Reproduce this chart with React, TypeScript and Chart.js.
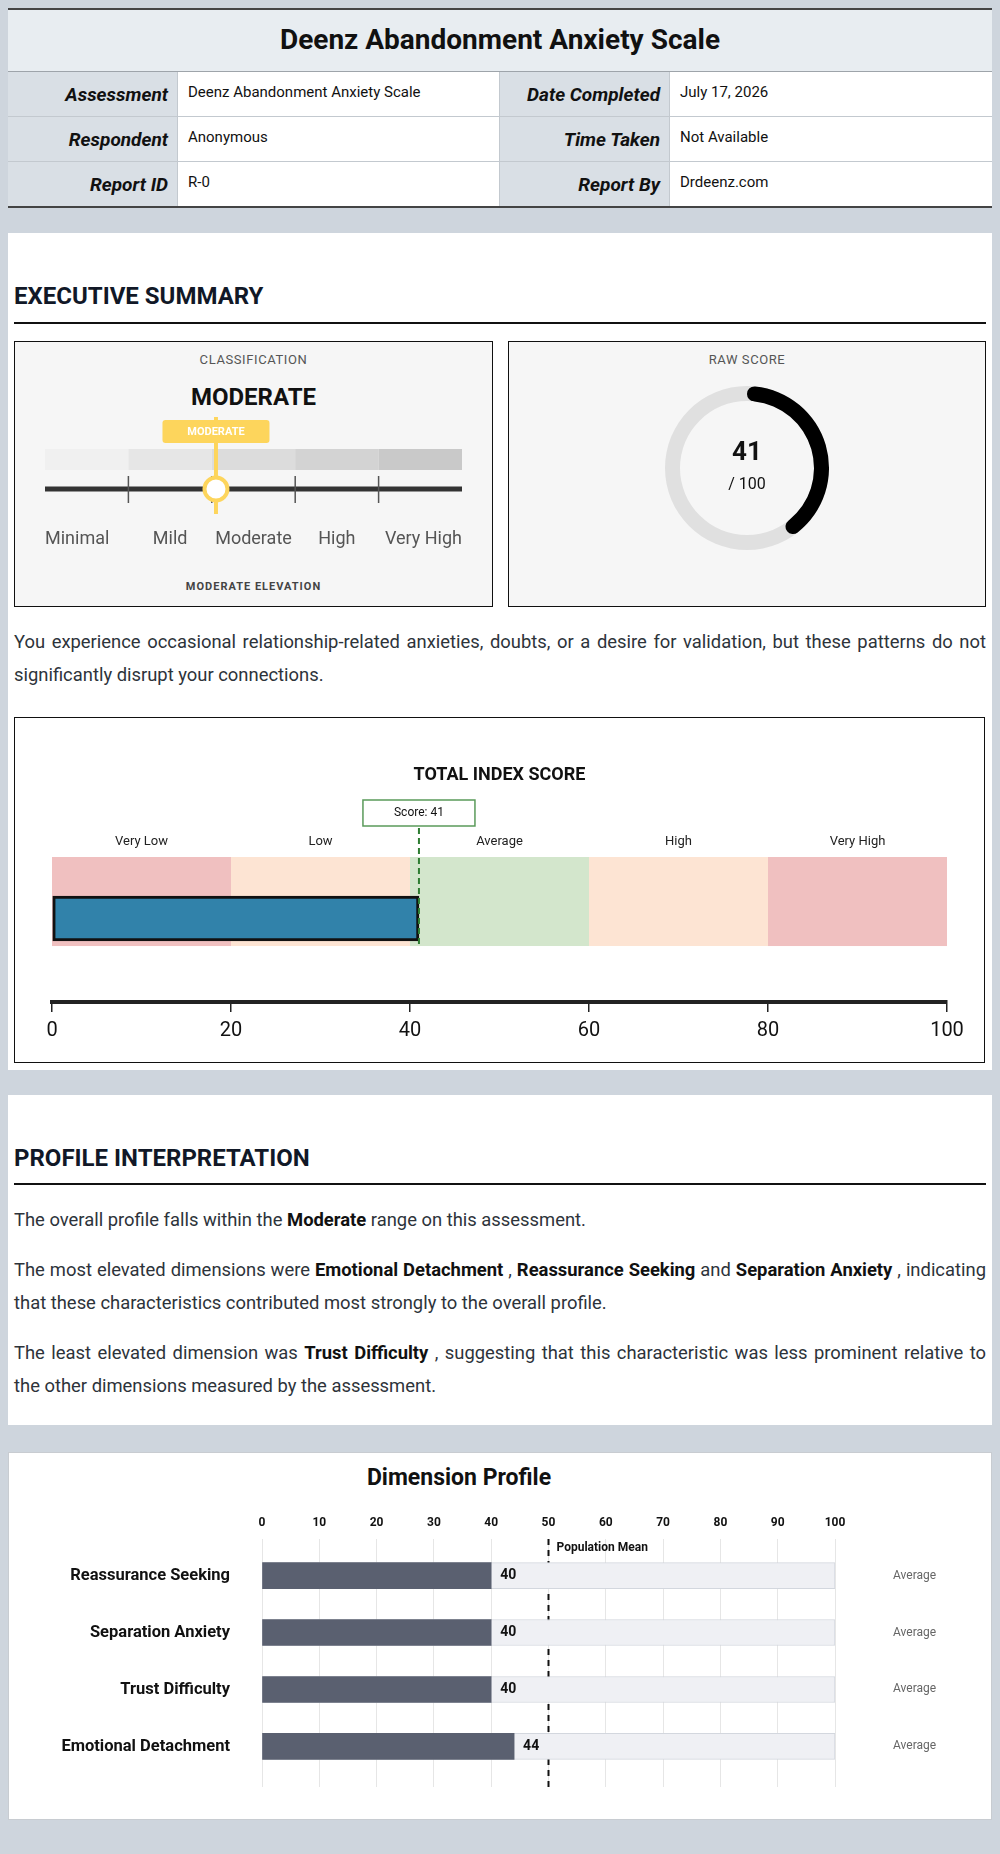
import React, { useEffect, useRef } from 'react';
import { Chart, registerables } from 'chart.js';

Chart.register(...registerables);

const FONT = 'Roboto, "Noto Sans", "DejaVu Sans", sans-serif';
Chart.defaults.font.family = FONT;

// ---------- data ----------
const infoLabelsLeft = ['Assessment', 'Respondent', 'Report ID'];
const infoValuesLeft = ['Deenz Abandonment Anxiety Scale', 'Anonymous', 'R-0'];
const infoLabelsRight = ['Date Completed', 'Time Taken', 'Report By'];
const infoValuesRight = ['July 17, 2026', 'Not Available', 'Drdeenz.com'];

const classificationLevels = ['Minimal', 'Mild', 'Moderate', 'High', 'Very High'];
const classificationEdges = [0, 20, 40, 60, 80, 100];
const rawScore = 41;
const rawScoreMax = 100;

const indexBandLabels = ['Very Low', 'Low', 'Average', 'High', 'Very High'];
const indexBandEdges = [0, 20, 40, 60, 80, 100];
const indexTicks = [0, 20, 40, 60, 80, 100];
const totalIndexScore = 41;

const dimensionNames = ['Reassurance Seeking', 'Separation Anxiety', 'Trust Difficulty', 'Emotional Detachment'];
const dimensionScores = [40, 40, 40, 44];
const dimensionLevels = ['Average', 'Average', 'Average', 'Average'];
const populationMean = 50;

// ---------- styles ----------
const PAGE_BG = '#ced5dd';
const LABEL_BG = '#d9dfe5';
const YELLOW = '#fdd55c';
const classSegColors = ['#f0f0f0', '#e6e6e6', '#dcdcdc', '#d3d3d3', '#c9c9c9'];
const indexBandColors = ['#f0c0c0', '#fde4d3', '#d3e6cc', '#fde4d3', '#f0c0c0'];

const levelIndex = classificationEdges.findIndex(
  (e, i) => i < classificationEdges.length - 1 && rawScore >= e && rawScore < classificationEdges[i + 1]
);
const levelName = classificationLevels[levelIndex];

// ---------- helpers ----------
function Txt(props: any) {
  const { x, y, a = 'l', s, b = false, i = false, c = '#111', ls = 0, children } = props;
  const lh = Math.round(s * 1.3);
  const st: any = {
    position: 'absolute', top: y - lh / 2, height: lh, lineHeight: lh + 'px', fontSize: s,
    fontWeight: b ? 700 : 400, fontStyle: i ? 'italic' : 'normal', color: c, letterSpacing: ls,
    whiteSpace: 'nowrap', fontFamily: FONT,
  };
  if (a === 'l') st.left = x;
  else if (a === 'c') { st.left = x - 400; st.width = 800; st.textAlign = 'center'; }
  else { st.left = x - 800; st.width = 800; st.textAlign = 'right'; }
  return <div style={st}>{children}</div>;
}

function Rect(props: any) {
  const { x, y, w, h, bg, border } = props;
  return (
    <div style={{
      position: 'absolute', left: x, top: y, width: w, height: h, background: bg,
      border: border || 'none', boxSizing: 'border-box',
    }} />
  );
}

function ChartCanvas(props: any) {
  const { x, y, w, h, make } = props;
  const ref = useRef<HTMLCanvasElement>(null);
  useEffect(() => {
    const chart = new Chart(ref.current as HTMLCanvasElement, make());
    return () => chart.destroy();
  }, []);
  return (
    <canvas ref={ref} width={w} height={h}
      style={{ position: 'absolute', left: x, top: y, width: w, height: h }} />
  );
}

// ---------- classification scale ----------
const classScalePlugin = {
  id: 'classScale',
  beforeDatasetsDraw(chart: any) {
    const { ctx, scales } = chart;
    const x = scales.x, y = scales.y;
    const cy = y.getPixelForValue(0);
    ctx.save();
    for (let i = 0; i < classificationEdges.length - 1; i++) {
      const x0 = x.getPixelForValue(classificationEdges[i]);
      const x1 = x.getPixelForValue(classificationEdges[i + 1]);
      ctx.fillStyle = classSegColors[i];
      ctx.fillRect(x0, cy - 40, x1 - x0, 21);
    }
    ctx.strokeStyle = '#333';
    ctx.lineWidth = 5;
    ctx.beginPath();
    ctx.moveTo(x.getPixelForValue(0), cy);
    ctx.lineTo(x.getPixelForValue(100), cy);
    ctx.stroke();
    ctx.strokeStyle = '#555';
    ctx.lineWidth = 1.5;
    for (let i = 1; i < classificationEdges.length - 1; i++) {
      const px = x.getPixelForValue(classificationEdges[i]);
      ctx.beginPath();
      ctx.moveTo(px, cy - 13);
      ctx.lineTo(px, cy + 14);
      ctx.stroke();
    }
    const mx = x.getPixelForValue(rawScore);
    ctx.strokeStyle = YELLOW;
    ctx.lineWidth = 4;
    ctx.beginPath();
    ctx.moveTo(mx, cy - 72);
    ctx.lineTo(mx, cy + 25);
    ctx.stroke();
    ctx.restore();
  },
  afterDatasetsDraw(chart: any) {
    const { ctx, scales } = chart;
    const x = scales.x, y = scales.y;
    const cy = y.getPixelForValue(0);
    const mx = x.getPixelForValue(rawScore);
    ctx.save();
    ctx.fillStyle = YELLOW;
    ctx.beginPath();
    (ctx as any).roundRect(mx - 53.5, cy - 69, 107, 23, 3);
    ctx.fill();
    ctx.fillStyle = '#fff';
    ctx.font = `bold 11px ${FONT}`;
    ctx.textAlign = 'center';
    ctx.textBaseline = 'middle';
    ctx.fillText(levelName.toUpperCase(), mx, cy - 57);
    ctx.fillStyle = '#555';
    ctx.font = `18px ${FONT}`;
    const n = classificationLevels.length;
    classificationLevels.forEach((lab, i) => {
      const x0 = x.getPixelForValue(classificationEdges[i]);
      const x1 = x.getPixelForValue(classificationEdges[i + 1]);
      if (i === 0) { ctx.textAlign = 'left'; ctx.fillText(lab, x0, cy + 50); }
      else if (i === n - 1) { ctx.textAlign = 'right'; ctx.fillText(lab, x1, cy + 50); }
      else { ctx.textAlign = 'center'; ctx.fillText(lab, (x0 + x1) / 2, cy + 50); }
    });
    ctx.restore();
  },
};

function makeClassScale(): any {
  return {
    type: 'scatter',
    data: {
      datasets: [{
        data: [{ x: rawScore, y: 0 }],
        pointRadius: 11.5, pointHoverRadius: 11.5, pointBorderWidth: 4,
        pointBackgroundColor: '#fff', pointBorderColor: YELLOW,
      }],
    },
    options: {
      animation: false, responsive: false, events: [],
      layout: { padding: { left: 30, right: 30, top: 0, bottom: 0 } },
      scales: {
        x: { type: 'linear', min: 0, max: 100, display: false, offset: false },
        y: { type: 'linear', min: -1, max: 1, display: false, offset: false },
      },
      plugins: { legend: { display: false }, tooltip: { enabled: false } },
    },
    plugins: [classScalePlugin],
  };
}

// ---------- raw score donut ----------
const donutPlugin = {
  id: 'donutBg',
  beforeDatasetsDraw(chart: any) {
    const arc = chart.getDatasetMeta(0).data[0];
    if (!arc) return;
    const { ctx } = chart;
    ctx.save();
    ctx.fillStyle = '#e0e0e0';
    ctx.beginPath();
    ctx.arc(arc.x, arc.y, arc.outerRadius, 0, Math.PI * 2);
    ctx.arc(arc.x, arc.y, arc.innerRadius, 0, Math.PI * 2, true);
    ctx.fill();
    ctx.restore();
  },
  afterDatasetsDraw(chart: any) {
    const arc = chart.getDatasetMeta(0).data[0];
    if (!arc) return;
    const { ctx } = chart;
    ctx.save();
    ctx.fillStyle = '#111';
    ctx.textAlign = 'center';
    ctx.textBaseline = 'middle';
    ctx.font = `bold 26px ${FONT}`;
    ctx.fillText(String(rawScore), arc.x, arc.y - 15);
    ctx.font = `16px ${FONT}`;
    ctx.fillText('/ ' + rawScoreMax, arc.x, arc.y + 17);
    ctx.restore();
  },
};

function makeDonut(): any {
  return {
    type: 'doughnut',
    data: {
      datasets: [{
        data: [rawScore, rawScoreMax - rawScore],
        backgroundColor: ['#000', 'rgba(0,0,0,0)'],
        borderWidth: 0, hoverBorderWidth: 0, hoverOffset: 0,
        borderRadius: (c: any) => (c.dataIndex === 0 ? 8 : 0),
      }],
    },
    options: {
      animation: false, responsive: false, events: [], cutout: '81.7%',
      layout: { padding: 0 },
      plugins: { legend: { display: false }, tooltip: { enabled: false } },
    },
    plugins: [donutPlugin],
  };
}

// ---------- total index ----------
const BAND_TOP = 1;
const BAND_BOTTOM = 0.386;
const BAR_POS = 0.576;

const indexPlugin = {
  id: 'indexBands',
  beforeDatasetsDraw(chart: any) {
    const { ctx, chartArea, scales } = chart;
    const x = scales.x, y = scales.y;
    const top = y.getPixelForValue(BAND_TOP);
    const bottom = y.getPixelForValue(BAND_BOTTOM);
    ctx.save();
    ctx.fillStyle = '#111';
    ctx.font = `bold 18px ${FONT}`;
    ctx.textAlign = 'center';
    ctx.textBaseline = 'middle';
    ctx.fillText('TOTAL INDEX SCORE', (chartArea.left + chartArea.right) / 2, 57);
    for (let i = 0; i < indexBandEdges.length - 1; i++) {
      const x0 = x.getPixelForValue(indexBandEdges[i]);
      const x1 = x.getPixelForValue(indexBandEdges[i + 1]);
      ctx.fillStyle = indexBandColors[i];
      ctx.fillRect(x0, top, x1 - x0, bottom - top);
      ctx.fillStyle = '#222';
      ctx.font = `13px ${FONT}`;
      ctx.fillText(indexBandLabels[i], (x0 + x1) / 2, top - 15);
    }
    ctx.restore();
  },
  afterDatasetsDraw(chart: any) {
    const { ctx, scales } = chart;
    const x = scales.x, y = scales.y;
    const px = x.getPixelForValue(totalIndexScore);
    const top = y.getPixelForValue(BAND_TOP);
    const bottom = y.getPixelForValue(BAND_BOTTOM);
    ctx.save();
    ctx.strokeStyle = '#2e7d32';
    ctx.lineWidth = 2;
    ctx.setLineDash([6, 4]);
    ctx.beginPath();
    ctx.moveTo(px, top - 29);
    ctx.lineTo(px, bottom);
    ctx.stroke();
    ctx.setLineDash([]);
    ctx.fillStyle = '#fff';
    ctx.fillRect(px - 56, top - 57, 112, 26);
    ctx.strokeStyle = '#5a9a5a';
    ctx.lineWidth = 1.5;
    ctx.strokeRect(px - 56, top - 57, 112, 26);
    ctx.fillStyle = '#111';
    ctx.font = `12px ${FONT}`;
    ctx.textAlign = 'center';
    ctx.textBaseline = 'middle';
    ctx.fillText('Score: ' + totalIndexScore, px, top - 44);
    ctx.restore();
  },
};

function makeIndex(): any {
  return {
    type: 'bar',
    data: {
      datasets: [{
        data: [{ x: totalIndexScore, y: BAR_POS }],
        backgroundColor: '#3182aa', borderColor: '#111', borderWidth: 3,
        borderSkipped: false, barThickness: 45,
      }],
    },
    options: {
      animation: false, responsive: false, events: [], indexAxis: 'y',
      layout: { padding: { left: 37, right: 37, top: 139, bottom: 0 } },
      scales: {
        x: {
          type: 'linear', position: 'bottom', min: 0, max: 100, offset: false,
          afterBuildTicks: (a: any) => { a.ticks = indexTicks.map((v) => ({ value: v })); },
          afterFit: (a: any) => { a.height = 60; a.paddingTop = 0; a.paddingBottom = 0; },
          grid: { drawOnChartArea: false, drawTicks: true, tickLength: 10, color: '#222', lineWidth: 1.5 },
          border: { display: true, color: '#222', width: 4 },
          ticks: { padding: 7, color: '#111', font: { size: 20 } },
        },
        y: { type: 'linear', min: 0, max: 1, display: false, offset: false },
      },
      plugins: { legend: { display: false }, tooltip: { enabled: false } },
    },
    plugins: [indexPlugin],
  };
}

// ---------- dimension profile ----------
const Y_MIN = -0.643;
const Y_MAX = 3.713;

const dimPlugin = {
  id: 'dimExtras',
  beforeDatasetsDraw(chart: any) {
    const { ctx, chartArea, scales } = chart;
    const px = scales.x.getPixelForValue(populationMean);
    ctx.save();
    ctx.strokeStyle = '#111';
    ctx.lineWidth = 2;
    ctx.setLineDash([6, 5]);
    ctx.beginPath();
    ctx.moveTo(px, chartArea.top);
    ctx.lineTo(px, chartArea.bottom);
    ctx.stroke();
    ctx.setLineDash([]);
    ctx.fillStyle = '#111';
    ctx.font = `bold 12px ${FONT}`;
    ctx.textAlign = 'left';
    ctx.textBaseline = 'middle';
    ctx.fillText('Population Mean', px + 8, chartArea.top + 9);
    ctx.restore();
  },
  afterDatasetsDraw(chart: any) {
    const { ctx } = chart;
    const meta = chart.getDatasetMeta(0);
    ctx.save();
    ctx.fillStyle = '#111';
    ctx.font = `bold 14px ${FONT}`;
    ctx.textAlign = 'left';
    ctx.textBaseline = 'middle';
    meta.data.forEach((bar: any, i: number) => {
      ctx.fillText(String(dimensionScores[i]), bar.x + 9, bar.y);
    });
    ctx.restore();
  },
};

function makeDims(): any {
  const catTicks = (a: any) => { a.ticks = dimensionNames.map((_, i) => ({ value: i })); };
  const noPad = (w: number) => (a: any) => {
    a.width = w; a.paddingTop = 0; a.paddingBottom = 0;
  };
  return {
    type: 'bar',
    data: {
      datasets: [
        {
          data: dimensionScores.map((v, i) => ({ x: v, y: i })),
          backgroundColor: '#5a6070', borderWidth: 0, barThickness: 26, grouped: false,
        },
        {
          data: dimensionScores.map((_, i) => ({ x: 100, y: i })),
          backgroundColor: '#eff0f4', borderColor: '#d3d7de', borderWidth: 1,
          borderSkipped: 'start', barThickness: 26, grouped: false,
        },
      ],
    },
    options: {
      animation: false, responsive: false, events: [], indexAxis: 'y',
      layout: { padding: { left: 0, right: 0, top: 0, bottom: 15 } },
      scales: {
        x: {
          type: 'linear', position: 'top', min: 0, max: 100, offset: false,
          ticks: { stepSize: 10, padding: 9, color: '#111', font: { size: 12, weight: 'bold' } },
          grid: { color: '#e6e6e6', drawTicks: false },
          border: { display: false },
          afterFit: (a: any) => { a.height = 37; },
        },
        y: {
          type: 'linear', position: 'left', min: Y_MIN, max: Y_MAX, reverse: true, offset: false,
          afterBuildTicks: catTicks,
          ticks: { callback: (v: any) => dimensionNames[v], padding: 32, color: '#111', font: { size: 16.5, weight: 'bold' } },
          grid: { display: false, drawTicks: false },
          border: { display: false },
          afterFit: noPad(253),
        },
        y2: {
          type: 'linear', position: 'right', min: Y_MIN, max: Y_MAX, reverse: true, offset: false,
          afterBuildTicks: catTicks,
          ticks: { callback: (v: any) => dimensionLevels[v], padding: 58, color: '#666', font: { size: 12 } },
          grid: { display: false, drawTicks: false },
          border: { display: false },
          afterFit: noPad(156),
        },
      },
      plugins: { legend: { display: false }, tooltip: { enabled: false } },
    },
    plugins: [dimPlugin],
  };
}

// ---------- page ----------
const paraStyle: any = {
  fontFamily: FONT, fontSize: 18.4, lineHeight: '33px', color: '#2d333a', textAlign: 'justify', margin: 0,
};
const B = (p: any) => <b style={{ color: '#111' }}>{p.children}</b>;

export default function App() {
  return (
    <div style={{ position: 'absolute', left: 0, top: 0, width: 1000, height: 1854, background: PAGE_BG, overflow: 'hidden', fontFamily: FONT }}>
      {/* header */}
      <Rect x={8} y={8} w={984} h={2} bg="#444" />
      <Rect x={8} y={10} w={984} h={62} bg="#e8edf1" />
      <Txt a="c" x={500} y={40} s={28} b c="#111">Deenz Abandonment Anxiety Scale</Txt>
      <Rect x={8} y={71} w={984} h={1} bg="#9ea4aa" />
      <Rect x={8} y={72} w={984} h={134} bg="#fff" />
      {infoLabelsLeft.map((lab, i) => {
        const top = 72 + i * 45;
        return (
          <React.Fragment key={i}>
            <Rect x={8} y={top} w={170} h={45} bg={LABEL_BG} />
            <Rect x={500} y={top} w={170} h={45} bg={LABEL_BG} />
            <Txt a="r" x={168} y={top + 22.5} s={19} b i>{lab}</Txt>
            <Txt x={188} y={top + 19.5} s={15}>{infoValuesLeft[i]}</Txt>
            <Txt a="r" x={660} y={top + 22.5} s={19} b i>{infoLabelsRight[i]}</Txt>
            <Txt x={680} y={top + 19.5} s={15}>{infoValuesRight[i]}</Txt>
          </React.Fragment>
        );
      })}
      <Rect x={8} y={116} w={984} h={1} bg="#c3c9cf" />
      <Rect x={8} y={161} w={984} h={1} bg="#c3c9cf" />
      <Rect x={177} y={72} w={1} h={134} bg="#c3c9cf" />
      <Rect x={499} y={72} w={1} h={134} bg="#c3c9cf" />
      <Rect x={669} y={72} w={1} h={134} bg="#c3c9cf" />
      <Rect x={8} y={206} w={984} h={2} bg="#444" />

      {/* executive summary */}
      <Rect x={8} y={233} w={984} h={837} bg="#fff" />
      <Txt x={14} y={296} s={24} b c="#111827">EXECUTIVE SUMMARY</Txt>
      <Rect x={14} y={322} w={972} h={2} bg="#111" />

      <Rect x={14} y={341} w={479} h={266} bg="#f6f6f6" border="1px solid #111" />
      <Txt a="c" x={253.5} y={359} s={13} c="#555" ls={0.6}>CLASSIFICATION</Txt>
      <Txt a="c" x={253.5} y={397} s={24} b c="#111">{levelName.toUpperCase()}</Txt>
      <ChartCanvas x={15} y={405} w={477} h={168} make={makeClassScale} />
      <Txt a="c" x={253.5} y={587} s={11} b c="#444" ls={1}>{levelName.toUpperCase()} ELEVATION</Txt>

      <Rect x={508} y={341} w={478} h={266} bg="#f6f6f6" border="1px solid #111" />
      <Txt a="c" x={747} y={359} s={13} c="#555" ls={0.6}>RAW SCORE</Txt>
      <ChartCanvas x={665} y={386} w={164} h={164} make={makeDonut} />

      <div style={{ position: 'absolute', left: 14, top: 624.5, width: 972 }}>
        <p style={paraStyle}>
          You experience occasional relationship-related anxieties, doubts, or a desire for validation, but these patterns do not significantly disrupt your connections.
        </p>
      </div>

      <Rect x={14} y={717} w={971} h={346} bg="#fff" border="1px solid #111" />
      <ChartCanvas x={15} y={718} w={969} h={344} make={makeIndex} />

      {/* profile interpretation */}
      <Rect x={8} y={1095} w={984} h={330} bg="#fff" />
      <Txt x={14} y={1158} s={24} b c="#111827">PROFILE INTERPRETATION</Txt>
      <Rect x={14} y={1183} w={972} h={2} bg="#111" />
      <div style={{ position: 'absolute', left: 14, top: 1202.5, width: 972, display: 'flex', flexDirection: 'column', gap: 17 }}>
        <p style={paraStyle}>
          The overall profile falls within the <B>{levelName}</B> range on this assessment.
        </p>
        <p style={paraStyle}>
          The most elevated dimensions were <B>Emotional Detachment</B> , <B>Reassurance Seeking</B> and <B>Separation Anxiety</B> , indicating that these characteristics contributed most strongly to the overall profile.
        </p>
        <p style={paraStyle}>
          The least elevated dimension was <B>Trust Difficulty</B> , suggesting that this characteristic was less prominent relative to the other dimensions measured by the assessment.
        </p>
      </div>

      {/* dimension profile */}
      <Rect x={8} y={1452} w={984} h={368} bg="#fff" border="1px solid #c8ccd1" />
      <Txt a="c" x={459} y={1478} s={23} b c="#111">Dimension Profile</Txt>
      <ChartCanvas x={9} y={1502} w={982} h={300} make={makeDims} />
    </div>
  );
}
